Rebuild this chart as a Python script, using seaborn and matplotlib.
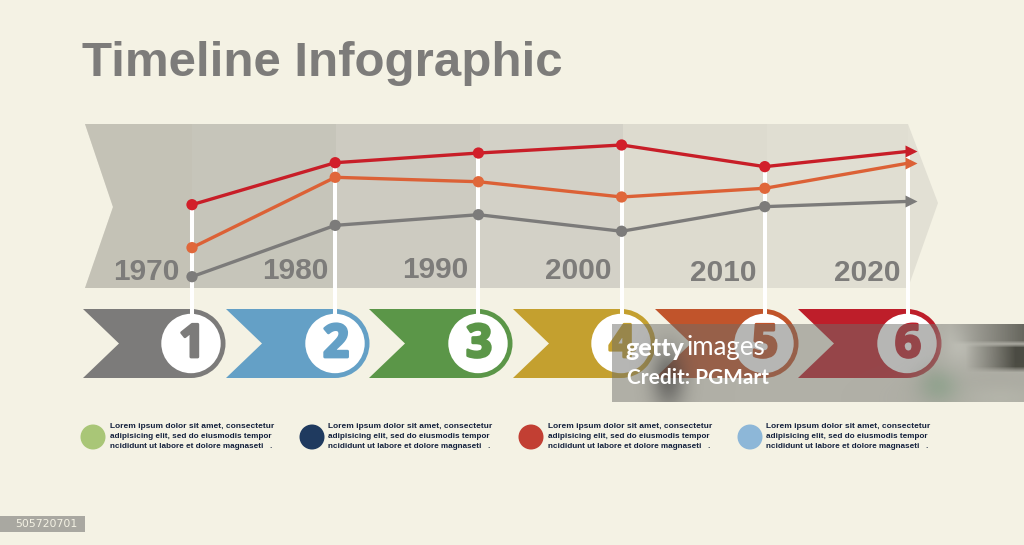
import matplotlib
matplotlib.use('Agg')
import matplotlib.pyplot as plt
import matplotlib.patheffects as pe
from matplotlib.colors import to_rgb
from matplotlib.patches import Polygon, Wedge, Circle, Rectangle
import numpy as np
import pandas as pd
import seaborn as sns

# --- data ---
years = [1970, 1980, 1990, 2000, 2010, 2020]
red_vals = [50.8, 76.4, 82.3, 87.2, 74.0, 83.3]
orange_vals = [24.6, 67.5, 64.8, 55.5, 60.8, 76.1]
gray_vals = [6.9, 38.2, 44.7, 34.6, 49.6, 52.8]
step_labels = ['1', '2', '3', '4', '5', '6']
legend_line1 = 'Lorem ipsum dolor sit amet, consectetur'
legend_line2 = 'adipisicing elit, sed do eiusmodis tempor'
legend_line3 = 'ncididunt ut labore et dolore magnaseti   .'

# --- colours ---
BG = '#F4F2E4'
RED = '#C81E28'
ORANGE = '#DC6136'
GRAY = '#7C7B7A'
step_colors = ['#7C7B7A', '#64A0C6', '#5B9648', '#C4A02F', '#C1542B', '#BE1E2A']
legend_colors = ['#A9C677', '#1F3A5F', '#C23F33', '#8DB7D8']
shade_colors = ['#C4C2B6', '#C6C5BA', '#CDCBC1', '#D3D1C7', '#DDDBCF', '#E0DED2']

sns.set_theme(style='white')
plt.rcParams['font.family'] = ['Liberation Sans', 'DejaVu Sans']

fig = plt.figure(figsize=(10.24, 5.45), dpi=100, facecolor=BG)

# background layer in pixel coordinates
bg = fig.add_axes([0, 0, 1, 1], zorder=0)
bg.set_xlim(0, 1024)
bg.set_ylim(545, 0)
bg.axis('off')

bg.text(82, 64, 'Timeline Infographic', fontsize=35.5, fontweight='bold',
        color='#7D7C7A', va='center', ha='left')

# big grey arrow behind the chart
band = Polygon([(85, 124), (908, 124), (938, 203), (908, 288), (85, 288), (113, 207)],
               closed=True, fc='#E2E0D4', ec='none')
bg.add_patch(band)
edges = [85, 192, 336, 480, 623, 767, 908]
for i, c in enumerate(shade_colors):
    r = Rectangle((edges[i], 124), edges[i + 1] - edges[i], 164, fc=c, ec='none')
    bg.add_patch(r)
    r.set_clip_path(band)

# year labels
year_x = [146, 295, 435, 578, 723, 867]
year_y = [272, 271, 270, 271, 273, 273]
for x, y, yr in zip(year_x, year_y, years):
    bg.text(x, y, str(yr), fontsize=21.5, fontweight='bold', color='#7D7C7A',
            ha='center', va='center')

# numbered ribbons
ribbon_x = [83, 226, 369, 513, 655, 798]
circle_x = [191, 335, 478, 621, 764, 907]
cy = 343.5
for x0, cx, c, lab in zip(ribbon_x, circle_x, step_colors, step_labels):
    bg.add_patch(Polygon([(x0, 309), (cx, 309), (cx, 378), (x0, 378), (x0 + 36, cy)],
                         closed=True, fc=c, ec='none'))
    bg.add_patch(Wedge((cx, cy), 34.5, -90, 90, fc=c, ec='none'))
    bg.add_patch(Circle((cx, cy), 29.7, fc='white', ec='none'))
    bg.text(cx + 1, cy + 1, lab, fontsize=33, fontweight='bold', color=c, ha='center',
            va='center', family=['Open Sans'],
            path_effects=[pe.withStroke(linewidth=2, foreground=c)])

# legend row under the ribbons
legend_x = [93, 312, 531, 750]
for x, c in zip(legend_x, legend_colors):
    bg.add_patch(Circle((x, 437), 12.5, fc=c, ec='none'))
    for y, line, fs in zip([427, 436.5, 446], [legend_line1, legend_line2, legend_line3],
                           [6.0, 5.85, 5.85]):
        bg.text(x + 16.5, y, line, fontsize=fs, fontweight='bold', color='#14213D',
                ha='left', va='center')

# image id tag, bottom left
bg.add_patch(Rectangle((0, 516), 85, 16, fc='#A9A8A1', ec='none'))
bg.text(15, 524, '505720701', fontsize=7.8, color='#F4F2E4', ha='left', va='center',
        family=['DejaVu Sans'])

# chart layer: value 0 is the band bottom, 100 the band top
ch = fig.add_axes([0, 0, 1, 1], zorder=1)
ch.patch.set_alpha(0)
yr_per_px = 50 / 716
ch.set_xlim(1970 - 192 * yr_per_px, 1970 + (1024 - 192) * yr_per_px)
ch.set_ylim((288 - 545) / 1.64, 288 / 1.64)

df = pd.DataFrame({'year': years, 'red': red_vals, 'orange': orange_vals, 'gray': gray_vals})
long_df = df.melt(id_vars='year', var_name='series', value_name='value')

# white drop lines from the top point down to the ribbons
top_vals = df[['red', 'orange', 'gray']].max(axis=1)
ch.vlines(df['year'], -20, top_vals, color='white', lw=2.9, zorder=1)

palette = {'red': RED, 'orange': ORANGE, 'gray': GRAY}
sns.lineplot(data=long_df, x='year', y='value', hue='series', palette=palette,
             hue_order=['gray', 'orange', 'red'], lw=2.4, legend=False, ax=ch, zorder=2)

# points on all but the last year, arrow heads on the last
last = df['year'] == 2020
sns.scatterplot(data=long_df[long_df['year'] != 2020], x='year', y='value', hue='series',
                palette={'red': '#D21F2A', 'orange': '#E0673A', 'gray': '#7C7B7A'},
                hue_order=['gray', 'orange', 'red'], s=66, linewidth=0, legend=False,
                ax=ch, zorder=3)
for name, c in palette.items():
    v = df.loc[last, name].iloc[0]
    ch.plot([2020.2], [v], marker='>', ms=8.5, mec='none', color=c, zorder=3, clip_on=False)
ch.axis('off')

# watermark on top
wm = fig.add_axes([0, 0, 1, 1], zorder=2)
wm.patch.set_alpha(0)

# soft textured panel, mixed from a few blurred patches
px, py = np.meshgrid(np.arange(612, 1024), np.arange(324, 402))
rgb = np.ones(px.shape + (3,)) * np.array(to_rgb('#6E6E6A'))
alpha = np.full(px.shape, 0.5)


def mix(color, mask):
    global rgb, alpha
    m = np.clip(mask, 0, 1)
    rgb = rgb * (1 - m[..., None]) + np.array(to_rgb(color)) * m[..., None]
    alpha = alpha * (1 - m) + m * 0.92


def blob(x, y, sx, sy):
    return np.exp(-((px - x) / sx) ** 2 - ((py - y) / sy) ** 2)


mix('#3A3A3A', 0.7 * blob(668, 378, 18, 32))
mix('#B3B4A9', 0.85 * blob(1000, 398, 70, 22))
mix('#7F9A80', 0.7 * blob(938, 385, 20, 18))
mix('#D0D1C8', 0.6 * blob(958, 345, 20, 24))
top_dark = np.clip((px - 950) / 74, 0, 1) * np.clip((344 - py) / 4, 0, 1)
mix('#4E4E46', 0.9 * top_dark)
wedge_dark = np.clip((px - 965) / 50, 0, 1) * np.clip((372 - py) / 6, 0, 1) * np.clip((py - 343) / 4, 0, 1)
mix('#36362E', 0.95 * wedge_dark)

wm.imshow(np.dstack([rgb, alpha]), extent=(612, 1024, 402, 324), aspect='auto',
          interpolation='bilinear', zorder=1)
wm.set_xlim(0, 1024)
wm.set_ylim(545, 0)
wm.axis('off')

wm.text(626, 348, 'getty', fontsize=18, fontweight='black', color='white',
        family=['Lato'], ha='left', va='center')
wm.text(687, 348, 'images', fontsize=18.6, fontweight='normal', color='white',
        family=['Lato'], ha='left', va='center')
wm.text(627, 378, 'Credit: PGMart', fontsize=15, fontweight='bold', color='white',
        family=['Lato'], ha='left', va='center')

fig.savefig('out.png', dpi=100, facecolor=BG)
print('Generated out.png')
